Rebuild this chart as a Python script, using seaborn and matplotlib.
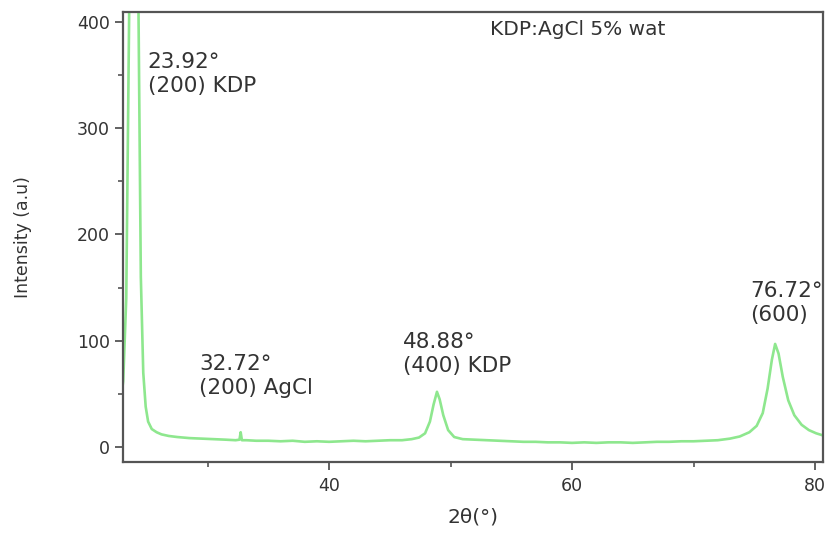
import matplotlib
matplotlib.use("Agg")
import matplotlib.pyplot as plt
import pandas as pd
import seaborn as sns
from matplotlib.ticker import MultipleLocator

# Diffraction scan, 2θ (degrees) vs intensity (a.u.)
two_theta = [22.8, 23.05, 23.3, 23.55, 23.75, 23.92, 24.1, 24.3, 24.5, 24.7,
             24.9, 25.1, 25.4, 25.8, 26.2, 26.8, 27.5, 28.5, 29.5, 30.5,
             31.5, 32.3, 32.62, 32.72, 32.82, 33.2, 34.0, 35.0, 36.0, 37.0,
             38.0, 39.0, 40.0, 41.0, 42.0, 43.0, 44.0, 45.0, 46.0, 46.8,
             47.4, 47.9, 48.3, 48.6, 48.88, 49.1, 49.4, 49.8, 50.3, 51.0,
             52.0, 53.0, 54.0, 55.0, 56.0, 57.0, 58.0, 59.0, 60.0, 61.0,
             62.0, 63.0, 64.0, 65.0, 66.0, 67.0, 68.0, 69.0, 70.0, 71.0,
             72.0, 73.0, 73.8, 74.6, 75.2, 75.7, 76.1, 76.45, 76.72, 77.0,
             77.35, 77.8, 78.3, 78.9, 79.5, 80.1, 80.8]
intensity = [40, 62, 140, 420, 1100, 1500, 1000, 420, 160, 70,
             38, 24, 17, 14, 12, 10.5, 9.5, 8.5, 8, 7.5,
             7, 6.5, 7, 14, 6.5, 6.5, 6, 6, 5.5, 6, 5, 5.5, 5, 5.5, 6, 5.5, 6, 6.5, 6.5, 7.5,
             9, 13, 24, 40, 52, 45, 30, 16, 9.5, 7.5,
             7, 6.5, 6, 5.5, 5, 5, 4.5, 4.5, 4, 4.5,
             4, 4.5, 4.5, 4, 4.5, 5, 5, 5.5, 5.5, 6,
             6.5, 8, 10, 14, 20, 32, 55, 82, 97, 88,
             66, 44, 30, 21, 16, 13, 10.5]

xticks_major = [40, 60, 80]
yticks_major = [0, 100, 200, 300, 400]

annotations = [
    ("23.92°\n(200) KDP", 25.05, 371),
    ("32.72°\n(200) AgCl", 29.3, 88),
    ("48.88°\n(400) KDP", 46.1, 108),
    ("76.72°\n(600)", 74.7, 156),
]
sample_label = "KDP:AgCl 5% wat"

df = pd.DataFrame({"two_theta": two_theta, "intensity": intensity})

sns.set_style("ticks")
plt.rcParams["font.family"] = ["DejaVu Sans"]

fig = plt.figure(figsize=(8.27, 5.36), dpi=100)
ax = fig.add_axes([0.1487, 0.138, 0.8463, 0.8396])

sns.lineplot(data=df, x="two_theta", y="intensity", ax=ax,
             color="#88e688", linewidth=1.9, alpha=0.95)

ax.set_xlim(23.03, 80.65)
ax.set_ylim(-14, 409)
ax.set_xticks(xticks_major)
ax.set_yticks(yticks_major)
ax.xaxis.set_minor_locator(MultipleLocator(10))
ax.yaxis.set_minor_locator(MultipleLocator(50))

spine_col = "#555555"
for s in ax.spines.values():
    s.set_visible(True)
    s.set_color(spine_col)
    s.set_linewidth(1.6)

ax.tick_params(axis="both", which="major", direction="out", length=6,
               width=1.3, color=spine_col, labelsize=12.5, labelcolor="#333333")
ax.tick_params(axis="both", which="minor", direction="out", length=3.5,
               width=1.2, color=spine_col)
ax.tick_params(axis="x", which="major", pad=4.5)

ax.set_xlabel("2θ(°)", fontsize=14.5, color="#333333", labelpad=9)
ax.set_ylabel("Intensity (a.u)", fontsize=12.5, color="#333333", labelpad=32)

for label, x, y in annotations:
    ax.text(x, y, label, fontsize=15.5, color="#333333", ha="left", va="top",
            linespacing=1.25, clip_on=False)

ax.text(0.524, 0.982, sample_label, transform=ax.transAxes, fontsize=14.5,
        color="#333333", ha="left", va="top")

fig.savefig("out.png", dpi=100)
